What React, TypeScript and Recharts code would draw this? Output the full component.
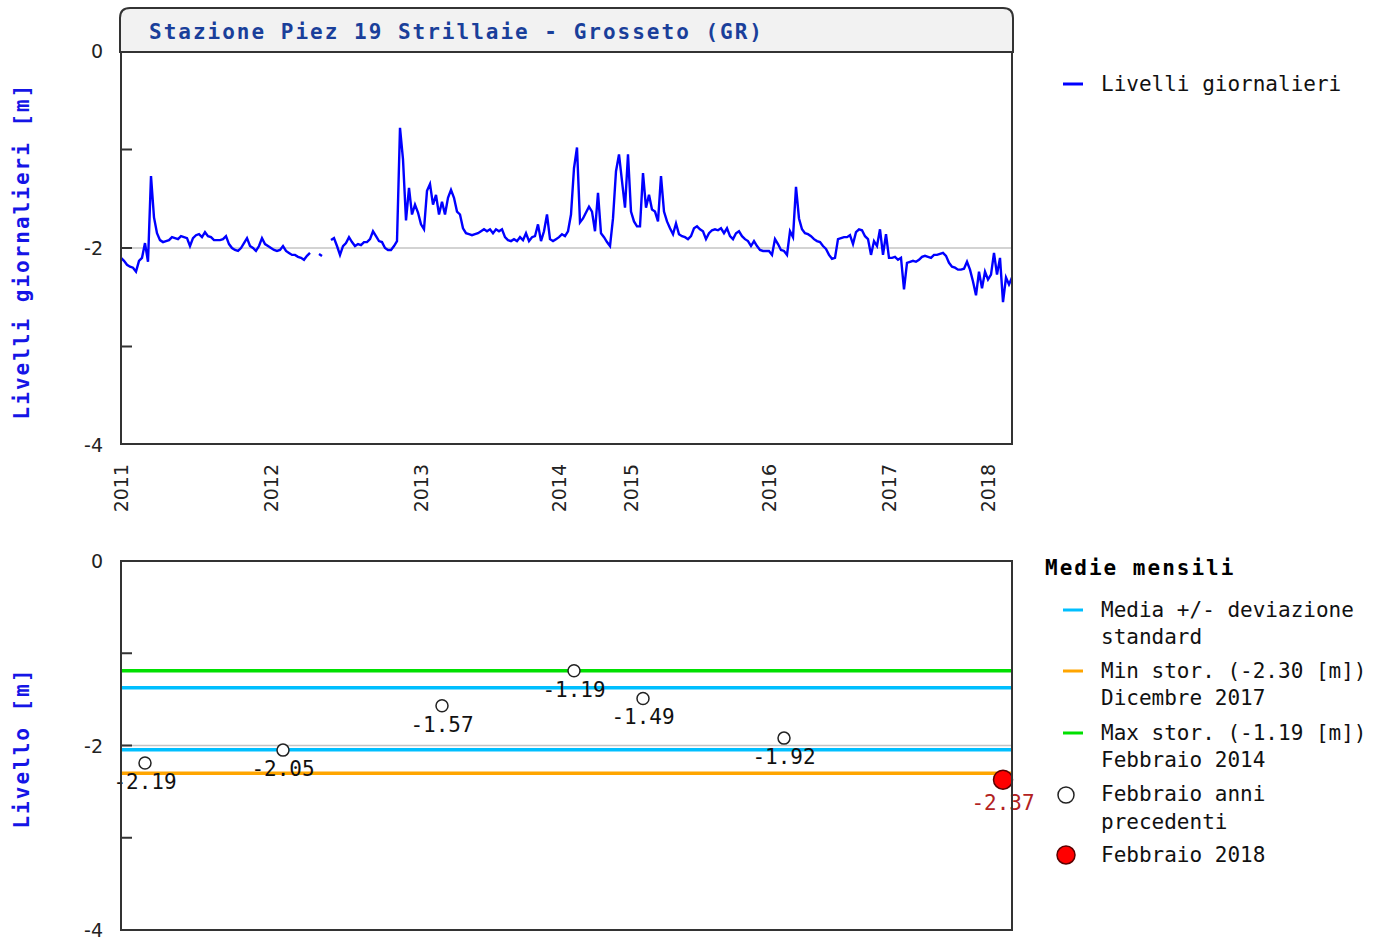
import React from "react";
import { ComposedChart, Line, XAxis, YAxis, ReferenceLine, Scatter } from "recharts";

// ---- Daily levels (one sample per step, null = missing data) ----
const dailyLevels: (number | null)[] = [
  -2.10, -2.13, -2.17, -2.19, -2.20, -2.24, -2.13, -2.10, -1.95, -2.14,
  -1.27, -1.69, -1.85, -1.92, -1.94, -1.93, -1.92, -1.89, -1.90, -1.91,
  -1.88, -1.89, -1.90, -1.98, -1.90, -1.87, -1.86, -1.89, -1.84, -1.88,
  -1.89, -1.92, -1.92, -1.92, -1.91, -1.88, -1.96, -2.00, -2.02, -2.03,
  -2.00, -1.95, -1.90, -1.98, -2.00, -2.03, -1.98, -1.90, -1.96, -1.98,
  -2.00, -2.02, -2.03, -2.02, -1.98, -2.03, -2.05, -2.07, -2.07, -2.09,
  -2.10, -2.12, -2.08, -2.05, null, null, -2.06, -2.08, null, null,
  -1.92, -1.90, -1.98, -2.07, -1.98, -1.95, -1.89, -1.94, -1.98, -1.96,
  -1.97, -1.94, -1.94, -1.91, -1.83, -1.88, -1.93, -1.94, -2.00, -2.02,
  -2.02, -1.98, -1.93, -0.78, -1.10, -1.72, -1.39, -1.66, -1.56, -1.64,
  -1.76, -1.81, -1.42, -1.35, -1.56, -1.46, -1.66, -1.53, -1.66, -1.49,
  -1.41, -1.49, -1.63, -1.66, -1.80, -1.85, -1.86, -1.87, -1.86, -1.85,
  -1.83, -1.81, -1.83, -1.81, -1.85, -1.81, -1.83, -1.81, -1.89, -1.92,
  -1.93, -1.91, -1.93, -1.89, -1.92, -1.85, -1.93, -1.89, -1.88, -1.76,
  -1.93, -1.83, -1.66, -1.91, -1.93, -1.91, -1.89, -1.86, -1.88, -1.83,
  -1.66, -1.19, -0.98, -1.74, -1.70, -1.64, -1.58, -1.63, -1.83, -1.44,
  -1.85, -1.89, -1.94, -1.98, -1.70, -1.22, -1.05, -1.32, -1.59, -1.05,
  -1.63, -1.73, -1.78, -1.78, -1.24, -1.59, -1.46, -1.61, -1.63, -1.73,
  -1.27, -1.63, -1.73, -1.80, -1.86, -1.75, -1.86, -1.88, -1.89, -1.91,
  -1.88, -1.80, -1.78, -1.81, -1.83, -1.91, -1.85, -1.82, -1.81, -1.82,
  -1.80, -1.85, -1.80, -1.88, -1.91, -1.85, -1.83, -1.88, -1.91, -1.93,
  -1.98, -1.93, -1.98, -2.02, -2.03, -2.03, -2.03, -2.07, -1.91, -1.96,
  -2.02, -2.03, -2.07, -1.83, -1.89, -1.38, -1.70, -1.81, -1.85, -1.86,
  -1.88, -1.91, -1.93, -1.94, -1.98, -2.01, -2.07, -2.11, -2.10, -1.91,
  -1.90, -1.89, -1.89, -1.87, -1.96, -1.84, -1.81, -1.82, -1.88, -1.91,
  -2.07, -1.93, -1.98, -1.81, -2.07, -1.86, -2.10, -2.10, -2.09, -2.12,
  -2.10, -2.42, -2.15, -2.14, -2.13, -2.14, -2.12, -2.09, -2.08, -2.09,
  -2.10, -2.07, -2.07, -2.06, -2.05, -2.08, -2.15, -2.19, -2.20, -2.22,
  -2.22, -2.21, -2.14, -2.22, -2.34, -2.48, -2.24, -2.41, -2.24, -2.32,
  -2.27, -2.05, -2.27, -2.10, -2.55, -2.30, -2.37, -2.30,
];

// sample index where each year starts
const yearTickIndex = [0, 50, 100, 146, 170, 216, 256, 289];
const yearLabels = ["2011", "2012", "2013", "2014", "2015", "2016", "2017", "2018"];

// ---- Monthly means (February) ----
const febYears = ["2011", "2012", "2013", "2014", "2015", "2016"];
const febIndex = [8, 54, 107, 151, 174, 221];
const febValues = [-2.19, -2.05, -1.57, -1.19, -1.49, -1.92];
const febCurrentIndex = 294;
const febCurrentValue = -2.37;
const febMean = -1.71;
const febStd = 0.335;
const histMin = -2.30;
const histMax = -1.19;

const yTicks = [-4, -3, -2, -1, 0];

const dailyData = dailyLevels.map((v, i) => ({ i, v }));
const prevPoints = febIndex.map((x, k) => ({ x, y: febValues[k], year: febYears[k] }));
const currentPoints = [{ x: febCurrentIndex, y: febCurrentValue, year: "2018" }];

const MONO = "'DejaVu Sans Mono', monospace";
const SANS = "'DejaVu Sans', sans-serif";

const YTick = (props: any) => {
  const { x, y, payload } = props;
  const v = payload.value;
  return (
    <g>
      {v !== -1 && v !== -3 ? (
        <text x={x} y={y} textAnchor="end" dominantBaseline="central" fontSize={19} fontFamily={SANS} fill="#222">
          {String(v)}
        </text>
      ) : null}
      {v !== 0 && v !== -4 ? <line x1={x + 18} x2={x + 29} y1={y} y2={y} stroke="#333" strokeWidth={2} /> : null}
    </g>
  );
};

const YearTick = (props: any) => {
  const { x, y, payload } = props;
  const k = yearTickIndex.indexOf(payload.value);
  return (
    <g transform={`translate(${x},${y + 19}) rotate(-90)`}>
      <text x={0} y={0} textAnchor="end" dominantBaseline="central" fontSize={19} fontFamily={SANS} fill="#222">
        {yearLabels[k]}
      </text>
    </g>
  );
};

const HollowPoint = (props: any) => {
  const { cx, cy, payload } = props;
  return (
    <g>
      <circle cx={cx} cy={cy} r={6} fill="#fff" stroke="#222" strokeWidth={1.5} />
      <text x={cx} y={cy + 19} textAnchor="middle" dominantBaseline="central" fontSize={21} fontFamily={MONO} fill="#111">
        {payload.y.toFixed(2)}
      </text>
    </g>
  );
};

const CurrentPoint = (props: any) => {
  const { cx, cy, payload } = props;
  return (
    <g>
      <circle cx={cx} cy={cy} r={9.5} fill="#ff0000" stroke="#5a0000" strokeWidth={1.5} />
      <text x={cx} y={cy + 23} textAnchor="middle" dominantBaseline="central" fontSize={21} fontFamily={MONO} fill="#b22222">
        {payload.y.toFixed(2)}
      </text>
    </g>
  );
};

export default function App() {
  return (
    <div style={{ position: "absolute", left: 0, top: 0, width: 1382, height: 943, background: "#fff", overflow: "hidden" }}>
      <div style={{ position: "absolute", left: 0, top: 0 }}>
        <ComposedChart width={1382} height={530} data={dailyData} margin={{ top: 51, right: 370, bottom: 0, left: 0 }}>
          <XAxis
            dataKey="i"
            type="number"
            domain={[0, dailyLevels.length - 1]}
            ticks={yearTickIndex}
            interval={0}
            tick={(p: any) => <YearTick {...p} />}
            tickLine={false}
            axisLine={false}
            tickSize={0}
            tickMargin={0}
            height={85}
            allowDataOverflow
          />
          <YAxis
            type="number"
            domain={[-4, 0]}
            ticks={yTicks}
            interval={0}
            width={121}
            tickLine={false}
            axisLine={false}
            tickSize={0}
            tickMargin={18}
            tick={(p: any) => <YTick {...p} />}
            allowDataOverflow
          />
          <ReferenceLine y={-2} stroke="#c4c4c4" strokeWidth={1.5} />
          <Line
            type="linear"
            dataKey="v"
            stroke="#0000ff"
            strokeWidth={2.4}
            dot={false}
            connectNulls={false}
            isAnimationActive={false}
          />
        </ComposedChart>
      </div>
      <div style={{ position: "absolute", left: 0, top: 530 }}>
        <ComposedChart width={1382} height={413} margin={{ top: 31, right: 370, bottom: 13, left: 0 }}>
          <XAxis dataKey="x" type="number" domain={[0, dailyLevels.length - 1]} hide />
          <YAxis
            type="number"
            dataKey="y"
            domain={[-4, 0]}
            ticks={yTicks}
            interval={0}
            width={121}
            tickLine={false}
            axisLine={false}
            tickSize={0}
            tickMargin={18}
            tick={(p: any) => <YTick {...p} />}
          />
          <ReferenceLine y={-2} stroke="#c4c4c4" strokeWidth={1.5} />
          <ReferenceLine y={histMax} stroke="#00e000" strokeWidth={3.5} />
          <ReferenceLine y={febMean + febStd} stroke="#00bfff" strokeWidth={3.5} />
          <ReferenceLine y={febMean - febStd} stroke="#00bfff" strokeWidth={3.5} />
          <ReferenceLine y={histMin} stroke="#ffa500" strokeWidth={3.5} />
          <Scatter data={prevPoints} dataKey="y" shape={(p: any) => <HollowPoint {...p} />} isAnimationActive={false} />
          <Scatter data={currentPoints} dataKey="y" shape={(p: any) => <CurrentPoint {...p} />} isAnimationActive={false} />
        </ComposedChart>
      </div>
      <svg width={1382} height={943} style={{ position: "absolute", left: 0, top: 0, pointerEvents: "none" }}>
        {/* title bar */}
        <path d="M120,52 L120,18 Q120,8 130,8 L1003,8 Q1013,8 1013,18 L1013,52 Z" fill="#f2f2f2" stroke="#333" strokeWidth={2} />
        <text x={149} y={32} dominantBaseline="central" fontFamily={MONO} fontWeight="bold" fontSize={21} letterSpacing={2} fill="#1a3f9a">
          Stazione Piez 19 Strillaie - Grosseto (GR)
        </text>
        {/* frames */}
        <rect x={121} y={52} width={891} height={392} fill="none" stroke="#333" strokeWidth={2} />
        <rect x={121} y={561} width={891} height={369} fill="none" stroke="#333" strokeWidth={2} />
        {/* axis titles */}
        <text transform="translate(22,251) rotate(-90)" textAnchor="middle" dominantBaseline="central" fontFamily={MONO} fontWeight="bold" fontSize={21} letterSpacing={2} fill="#1515e6">
          Livelli giornalieri [m]
        </text>
        <text transform="translate(22,748) rotate(-90)" textAnchor="middle" dominantBaseline="central" fontFamily={MONO} fontWeight="bold" fontSize={21} letterSpacing={2} fill="#1515e6">
          Livello [m]
        </text>
        {/* top legend */}
        <line x1={1063} x2={1083} y1={84} y2={84} stroke="#0000ff" strokeWidth={3} />
        <text x={1101} y={84} dominantBaseline="central" fontFamily={MONO} fontSize={21} fill="#111">Livelli giornalieri</text>
        {/* bottom legend */}
        <text x={1045} y={568} dominantBaseline="central" fontFamily={MONO} fontWeight="bold" fontSize={21} letterSpacing={2} fill="#000">Medie mensili</text>
        <line x1={1063} x2={1083} y1={610} y2={610} stroke="#00bfff" strokeWidth={3} />
        <text x={1101} y={610} dominantBaseline="central" fontFamily={MONO} fontSize={21} fill="#111">Media +/- deviazione</text>
        <text x={1101} y={637} dominantBaseline="central" fontFamily={MONO} fontSize={21} fill="#111">standard</text>
        <line x1={1063} x2={1083} y1={671} y2={671} stroke="#ffa500" strokeWidth={3} />
        <text x={1101} y={671} dominantBaseline="central" fontFamily={MONO} fontSize={21} fill="#111">Min stor. (-2.30 [m])</text>
        <text x={1101} y={698} dominantBaseline="central" fontFamily={MONO} fontSize={21} fill="#111">Dicembre 2017</text>
        <line x1={1063} x2={1083} y1={733} y2={733} stroke="#00e000" strokeWidth={3} />
        <text x={1101} y={733} dominantBaseline="central" fontFamily={MONO} fontSize={21} fill="#111">Max stor. (-1.19 [m])</text>
        <text x={1101} y={760} dominantBaseline="central" fontFamily={MONO} fontSize={21} fill="#111">Febbraio 2014</text>
        <circle cx={1066} cy={795} r={8} fill="#fff" stroke="#222" strokeWidth={1.5} />
        <text x={1101} y={794} dominantBaseline="central" fontFamily={MONO} fontSize={21} fill="#111">Febbraio anni</text>
        <text x={1101} y={822} dominantBaseline="central" fontFamily={MONO} fontSize={21} fill="#111">precedenti</text>
        <circle cx={1066} cy={855} r={9} fill="#ff0000" stroke="#5a0000" strokeWidth={1.5} />
        <text x={1101} y={855} dominantBaseline="central" fontFamily={MONO} fontSize={21} fill="#111">Febbraio 2018</text>
      </svg>
    </div>
  );
}
